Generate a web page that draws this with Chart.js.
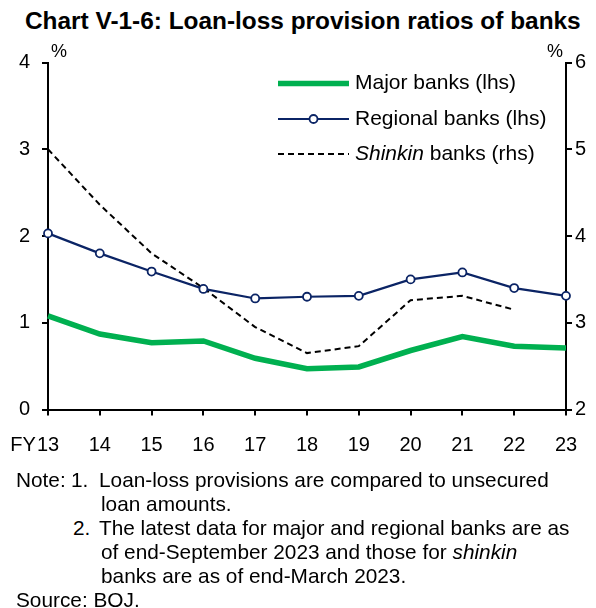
<!DOCTYPE html>
<html>
<head>
<meta charset="utf-8">
<script src="https://cdn.jsdelivr.net/npm/chart.js@4.4.1/dist/chart.umd.min.js"></script>
<style>
  body { margin: 0; background: #fff; width: 596px; height: 608px; overflow: hidden; position: relative;
         font-family: "Liberation Sans", Arial, sans-serif; color: #000; }
  #chart { position: absolute; left: 0; top: 0; }
  .txt { position: absolute; white-space: nowrap; line-height: 1; }
  #title { left: 25px; top: 9px; font-size: 24.4px; font-weight: bold; }
  .note { font-size: 20.8px; }
</style>
</head>
<body>
<div id="title" class="txt">Chart V-1-6: Loan-loss provision ratios of banks</div>
<canvas id="chart" width="596" height="470"></canvas>
<div class="txt note" style="left:16px;top:470px">Note:</div>
<div class="txt note" style="left:71px;top:470px">1.</div>
<div class="txt note" style="left:99px;top:470px">Loan-loss provisions are compared to unsecured</div>
<div class="txt note" style="left:101px;top:494px">loan amounts.</div>
<div class="txt note" style="left:73px;top:518px">2.</div>
<div class="txt note" style="left:99px;top:518px">The latest data for major and regional banks are as</div>
<div class="txt note" style="left:101px;top:542px">of end-September 2023 and those for <i>shinkin</i></div>
<div class="txt note" style="left:101px;top:566px">banks are as of end-March 2023.</div>
<div class="txt note" style="left:16px;top:590px">Source: BOJ.</div>
<script>
// fiscal years on the x axis
const years = ['13', '14', '15', '16', '17', '18', '19', '20', '21', '22', '23'];
const yearPrefix = 'FY';

// loan-loss provision ratios, %
const majorBanks = [1.08, 0.87, 0.77, 0.79, 0.59, 0.47, 0.49, 0.68, 0.84, 0.73, 0.71];
const regionalBanks = [2.03, 1.80, 1.59, 1.39, 1.28, 1.30, 1.31, 1.50, 1.58, 1.40, 1.31];
const shinkinBanks = [5.00, 4.36, 3.80, 3.40, 2.95, 2.65, 2.73, 3.26, 3.31, 3.15, null];

const leftTicks = [0, 1, 2, 3, 4];
const rightTicks = [2, 3, 4, 5, 6];

const FONT = '"Liberation Sans", Arial, sans-serif';
const GREEN = '#00b050';
const NAVY = '#0b2465';

// legend drawn inside the plot, top right
const insideLegend = {
  id: 'insideLegend',
  afterDatasetsDraw(chart) {
    const ctx = chart.ctx;
    const x0 = 278, x1 = 349, tx = 355;
    const rows = [83.5, 119, 154];
    ctx.save();
    ctx.font = '21px ' + FONT;
    ctx.textBaseline = 'middle';
    ctx.fillStyle = '#000';
    chart.data.datasets.forEach((ds, i) => {
      const y = rows[i];
      ctx.beginPath();
      ctx.setLineDash(ds.borderDash || []);
      ctx.strokeStyle = ds.borderColor;
      ctx.lineWidth = ds.borderWidth;
      ctx.moveTo(x0, y);
      ctx.lineTo(x1, y);
      ctx.stroke();
      ctx.setLineDash([]);
      if (ds.pointRadius > 0) {
        ctx.beginPath();
        ctx.arc((x0 + x1) / 2, y, ds.pointRadius, 0, Math.PI * 2);
        ctx.fillStyle = ds.pointBackgroundColor;
        ctx.fill();
        ctx.lineWidth = ds.pointBorderWidth;
        ctx.strokeStyle = ds.pointBorderColor;
        ctx.stroke();
        ctx.fillStyle = '#000';
      }
      if (ds.italicPart) {
        ctx.font = 'italic 21px ' + FONT;
        ctx.fillText(ds.italicPart, tx, y);
        const w = ctx.measureText(ds.italicPart).width;
        ctx.font = '21px ' + FONT;
        ctx.fillText(ds.label.slice(ds.italicPart.length), tx + w, y);
      } else {
        ctx.fillText(ds.label, tx, y);
      }
    });
    ctx.restore();
  }
};

// "%" unit marks and the FY prefix on the first year label
const axisExtras = {
  id: 'axisExtras',
  afterDraw(chart) {
    const ctx = chart.ctx;
    const xs = chart.scales.x;
    ctx.save();
    ctx.fillStyle = '#000';
    ctx.font = '18px ' + FONT;
    ctx.textBaseline = 'middle';
    ctx.textAlign = 'center';
    ctx.fillText('%', chart.scales.y.right + 11, 52);
    ctx.fillText('%', chart.scales.y1.left - 11, 52);

    const item = xs.getLabelItems()[0];
    ctx.font = '20px ' + FONT;
    ctx.textBaseline = item.options.textBaseline;
    const w = ctx.measureText(years[0]).width;
    ctx.textAlign = 'right';
    ctx.fillText(yearPrefix, item.options.translation[0] - w / 2 - 1,
                 item.options.translation[1] + item.textOffset);
    ctx.restore();
  }
};

const axisLine = { color: '#000', width: 2 };
const tickGrid = { drawOnChartArea: false, drawTicks: true, tickLength: 6, color: '#000', lineWidth: 2 };

new Chart(document.getElementById('chart'), {
  type: 'line',
  data: {
    labels: years,
    datasets: [
      {
        label: 'Major banks (lhs)',
        data: majorBanks,
        yAxisID: 'y',
        borderColor: GREEN,
        borderWidth: 5.5,
        pointRadius: 0,
        tension: 0,
      },
      {
        label: 'Regional banks (lhs)',
        data: regionalBanks,
        yAxisID: 'y',
        borderColor: NAVY,
        borderWidth: 2.2,
        pointRadius: 4,
        pointBorderWidth: 1.8,
        pointBackgroundColor: '#fff',
        pointBorderColor: NAVY,
        tension: 0,
      },
      {
        label: 'Shinkin banks (rhs)',
        italicPart: 'Shinkin',
        data: shinkinBanks,
        yAxisID: 'y1',
        borderColor: '#000',
        borderWidth: 2,
        borderDash: [6, 4],
        pointRadius: 0,
        tension: 0,
      },
    ],
  },
  options: {
    responsive: false,
    animation: false,
    devicePixelRatio: 1,
    layout: { padding: { top: 62.5, left: 0, right: 0, bottom: 0 } },
    plugins: { legend: { display: false }, title: { display: false }, tooltip: { enabled: false } },
    scales: {
      x: {
        offset: false,
        border: axisLine,
        grid: tickGrid,
        ticks: {
          color: '#000', font: { family: FONT, size: 20 }, padding: 18,
          maxRotation: 0, autoSkip: false,
        },
        afterFit(s) { s.height = 470 - 409.5; },
      },
      y: {
        position: 'left',
        min: 0, max: 4,
        border: axisLine,
        grid: tickGrid,
        afterBuildTicks(s) { s.ticks = leftTicks.map(v => ({ value: v })); },
        ticks: { color: '#000', font: { family: FONT, size: 20 }, padding: 12 },
        afterFit(s) { s.width = 48; },
      },
      y1: {
        position: 'right',
        min: 2, max: 6,
        border: axisLine,
        grid: tickGrid,
        afterBuildTicks(s) { s.ticks = rightTicks.map(v => ({ value: v })); },
        ticks: { color: '#000', font: { family: FONT, size: 20 }, padding: 3 },
        afterFit(s) { s.width = 596 - 566; },
      },
    },
  },
  plugins: [insideLegend, axisExtras],
});
</script>
</body>
</html>
